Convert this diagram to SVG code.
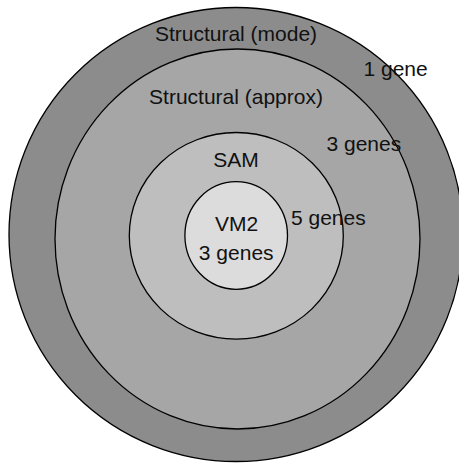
<svg xmlns="http://www.w3.org/2000/svg" width="459" height="464" viewBox="0 0 459 464">
<style>
.ring{stroke:#000;stroke-width:1.3}
text{font-family:"Liberation Sans",Arial,sans-serif;font-size:21px;fill:#111}
.c{text-anchor:middle}
</style>
<rect width="459" height="464" fill="#fff"/>
<g id="structural-mode"><ellipse class="ring" cx="236" cy="234.5" rx="227" ry="227" fill="#8c8c8c"/></g>
<g id="structural-approx"><ellipse class="ring" cx="237.5" cy="239" rx="182.5" ry="190" fill="#a6a6a6"/></g>
<g id="sam"><ellipse class="ring" cx="236.3" cy="235.8" rx="107" ry="103.3" fill="#bebebe"/></g>
<g id="vm2"><ellipse class="ring" cx="236.2" cy="235.5" rx="51.3" ry="53.8" fill="#dcdcdc"/></g>
<g id="labels">
<text class="c" x="236" y="40.5">Structural (mode)</text>
<text class="c" x="236" y="104">Structural (approx)</text>
<text x="363.5" y="76">1 gene</text>
<text x="326.5" y="151">3 genes</text>
<text class="c" x="236" y="167">SAM</text>
<text x="291" y="225">5 genes</text>
<text class="c" x="236.5" y="230.5">VM2</text>
<text class="c" x="236.2" y="260">3 genes</text>
</g>
</svg>
